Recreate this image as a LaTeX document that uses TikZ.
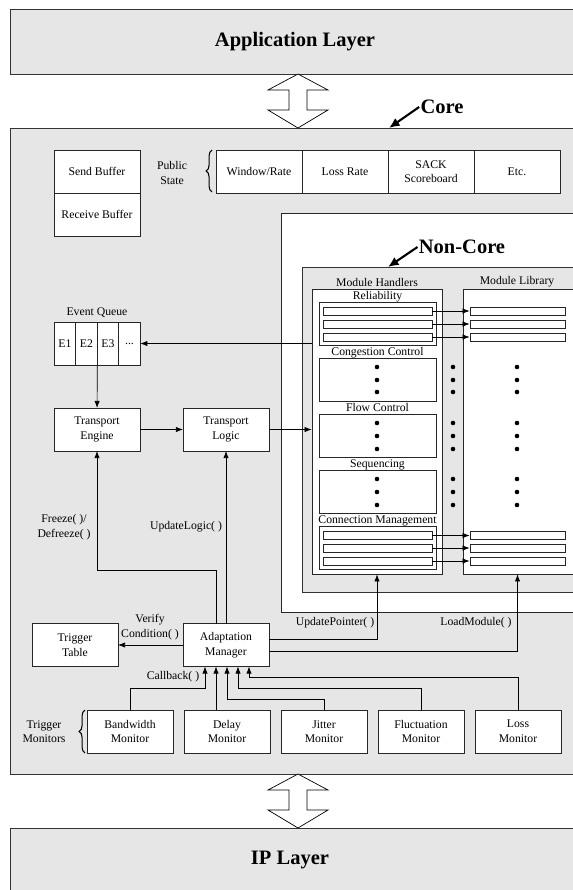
\documentclass[tikz,border=0pt]{standalone}
\usepackage{fontspec}
\setmainfont{Liberation Serif}
\usetikzlibrary{shapes, arrows, arrows.meta}
\usetikzlibrary{calc, positioning, decorations.pathreplacing}

\definecolor{layergray}{RGB}{230,230,230}
\newcommand{\diagfont}{\fontsize{10}{12.5}\selectfont}
\newcommand{\layerfont}{\fontsize{17.5}{20}\selectfont\bfseries}

\tikzset{
  layer/.style={draw=black!80, fill=layergray, line width=0.6pt},
  container/.style={draw=black!85, fill=white, line width=0.6pt, inner sep=0pt},
  blockbox/.style={draw=black!85, fill=white, line width=0.6pt, minimum width=2.58cm,
    minimum height=1.29cm, inner sep=0pt, outer sep=0pt, align=center, font=\diagfont},
  queuecell/.style={blockbox, minimum width=0.645cm},
  subbox/.style={container, minimum width=3.51cm, minimum height=1.29cm},
  slot/.style={container, minimum height=0.24cm},
  sublabel/.style={anchor=south, inner sep=0pt, text depth=2pt, font=\diagfont},
  plaintext/.style={font=\diagfont, align=center, inner sep=1pt},
  flow/.style={-{Latex[length=6pt,width=4.5pt]}, line width=0.6pt},
  bigarrow/.style={-{Latex[length=9pt,width=8pt]}, line width=1.8pt},
  curly/.style={decorate, decoration={brace, amplitude=5pt}, line width=0.9pt}
}

\begin{document}
\begin{tikzpicture}[x=0.03cm, y=-0.03cm]
    \useasboundingbox (0,0) rectangle (573,890);
    \clip (0,0) rectangle (573,890);

    % layers
    \draw[layer] (10,9) rectangle (590,74);
    \node[font=\layerfont] (app) at (295,42) {Application Layer};
    \draw[layer] (10,128) rectangle (590,774);
    \draw[layer] (10,828) rectangle (590,900);
    \node[font=\layerfont] (ip) at (290,860) {IP Layer};

    % double arrows between the layers
    \foreach \t in {74, 774}
    \draw[fill=white, line width=0.6pt] (298,\t) -- (328,\t+16) -- (307,\t+16) -- (307,\t+36)
        -- (328,\t+36) -- (298,\t+54) -- (268,\t+36) -- (289,\t+36) -- (289,\t+16)
        -- (268,\t+16) -- cycle;

    \node[font=\layerfont, inner sep=1pt] (corelabel) at (442,107) {Core};
    \coordinate (coretip) at (389,128);
    \draw[bigarrow] (corelabel.west) -- (coretip);

    % buffers and public state
    \node[blockbox] (sendbuf) at (97,171.5) {Send Buffer};
    \node[blockbox] (recvbuf) at (97,214.5) {Receive Buffer};
    \node[plaintext] (pubstate) at (172,173) {Public\\State};
    \draw[curly] (212,192) -- (212,150);
    \node[blockbox] (winrate) at (259,171.5) {Window/Rate};
    \node[blockbox, right=0pt of winrate] (lossrate) {Loss Rate};
    \node[blockbox, right=0pt of lossrate] (sack) {SACK\\Scoreboard};
    \node[blockbox, right=0pt of sack] (etc) {Etc.};

    % non-core part
    \draw[container] (281,213) rectangle (590,612);
    \draw[layer] (302,267) rectangle (590,592);
    \node[font=\layerfont, inner sep=1pt] (noncorelabel) at (462,247) {Non-Core};
    \coordinate (noncoretip) at (388,267);
    \draw[bigarrow] (noncorelabel.west) -- (noncoretip);

    \node[plaintext] (mhlabel) at (377,282) {Module Handlers};
    \node[plaintext] (mllabel) at (517,282) {Module Library};
    \node[container, minimum width=3.9cm, minimum height=8.55cm] (handlers) at (377,431.5) {};
    \node[container, minimum width=3.36cm, minimum height=8.55cm] (library) at (519,431.5) {};

    \foreach \name/\y/\txt in {rel/324/Reliability, cong/380/Congestion Control,
        flowctl/436/Flow Control, seq/491.5/Sequencing, conn/548/Connection Management}
    {
        \node[subbox] (\name) at (377.5,\y) {};
        \node[sublabel] at (\name.north) {\txt};
    }

    \foreach \y [count=\i] in {311, 324, 337, 535.5, 548, 561}
    {
        \node[slot, minimum width=3.27cm] (hs\i) at (377.5,\y) {};
        \node[slot, minimum width=2.85cm] (lib\i) at (517.5,\y) {};
        \draw[flow] (hs\i) -- (lib\i);
    }

    \foreach \y in {367, 380, 392, 423, 436, 449, 479, 492, 505}
    \foreach \x in {377, 453, 517}
    \fill (\x,\y) circle (2.3);

    % event queue and transport
    \node[plaintext] (eqlabel) at (97,313) {Event Queue};
    \node[queuecell] (eq1) at (65,343.5) {E1};
    \node[queuecell, right=0pt of eq1] (eq2) {E2};
    \node[queuecell, right=0pt of eq2] (eq3) {E3};
    \node[queuecell, right=0pt of eq3] (eq4) {...};
    \node[blockbox] (engine) at (97,429.5) {Transport\\Engine};
    \node[blockbox] (logic) at (226,429.5) {Transport\\Logic};

    \draw[flow] (handlers.west |- eq4.east) -- (eq4.east);
    \draw[flow] (eq2.south east) -- (engine);
    \draw[flow] (engine) -- (logic);
    \draw[flow] (logic.east) -- (logic.east -| handlers.west);

    % adaptation
    \node[blockbox] (adapt) at (226,645) {Adaptation\\Manager};
    \node[blockbox] (trigtab) at (75,645) {Trigger\\Table};
    \foreach \i in {0,...,4}
    \coordinate (in\i) at ({205+11*\i}, 666.5);

    \draw[flow] (in1 |- adapt.north) -- ++(0,-53) -| (engine.south);
    \draw[flow] (adapt.north) -- (logic.south);
    \draw[flow] (adapt.west) -- (trigtab.east);
    \draw[flow] ($(adapt.east)+(0,-6)$) -| (handlers.south);
    \draw[flow] ($(adapt.east)+(0,6)$) -| (lib6 |- library.south);

    \node[plaintext] (freezelabel) at (64,527) {Freeze( )/\\Defreeze( )};
    \node[plaintext] (logiclabel) at (186,527) {UpdateLogic( )};
    \node[plaintext] (verifylabel) at (150,627) {Verify\\Condition( )};
    \node[plaintext] (pointerlabel) at (335,623) {UpdatePointer( )};
    \node[plaintext] (loadlabel) at (476,623) {LoadModule( )};

    % trigger monitors
    \node[plaintext] (monlabel) at (44,731.5) {Trigger\\Monitors};
    \draw[curly] (85,753) -- (85,710);
    \node[blockbox] (bw) at (130,731.5) {Bandwidth\\Monitor};
    \node[blockbox, right=0.33cm of bw] (delay) {Delay\\Monitor};
    \node[blockbox, right=0.33cm of delay] (jitter) {Jitter\\Monitor};
    \node[blockbox, right=0.33cm of jitter] (fluct) {Fluctuation\\Monitor};
    \node[blockbox, right=0.33cm of fluct] (loss) {Loss\\Monitor};

    \draw[flow] (bw.north) -- ++(0,-22) -| (in0);
    \draw[flow] (in1 |- delay.north) -- (in1);
    \draw[flow] (jitter.north) -- ++(0,-11) -| (in2);
    \draw[flow] (fluct.north) -- ++(0,-22) -| (in3);
    \draw[flow] (loss.north) -- ++(0,-33) -| (in4);
    \node[plaintext] (cblabel) at (173,677) {Callback( )};

\end{tikzpicture}
\end{document}
